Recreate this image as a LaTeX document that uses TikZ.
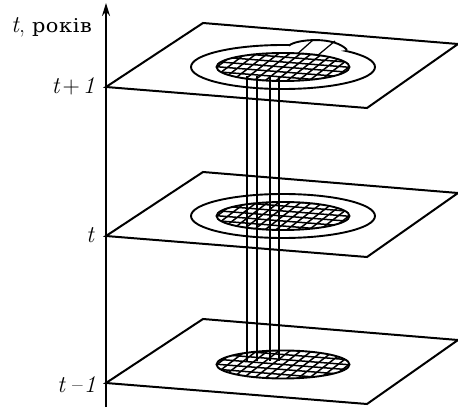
\documentclass[tikz,border=0pt]{standalone}
\usepackage{fontspec}
\usepackage{amsmath}
\usetikzlibrary{positioning, arrows.meta}
\newfontfamily\ukrfont[LetterSpace=3, FakeStretch=1.1]{DejaVu Serif}

\begin{document}
\begin{tikzpicture}[x=1pt, y=-1pt, > = {Stealth[length=13pt, width=8pt]},
    plane/.style = {line width=2pt, line join=miter},
    ring/.style = {line width=1.9pt},
    fibre/.style = {line width=1.25pt},
    mesh/.style = {line width=1.5pt},
    ticklabel/.style = {anchor=base east, inner sep=0pt, font=\fontsize{24}{24}\selectfont\itshape\addfontfeature{FakeBold=0.3}}]
    \useasboundingbox (0,0) rectangle (458,409);

    % planes
    \foreach \dy in {0,149,296}
        \draw[plane] (106,87+\dy) -- (203,23+\dy) -- (458,44+\dy) -- (367,108+\dy) -- cycle;

    % outer rings
    \foreach \cy in {67,216}
        \draw[ring] (283,\cy) ellipse [x radius=92, y radius=22];

    % tab on the top ring
    \fill[white] (289,45.5) .. controls (297,39) and (335,36) .. (347,50) -- (300,56) -- cycle;
    \draw[ring] (289,45.5) .. controls (297,39) and (335,36) .. (347,50);
    \draw[fibre] (313,40) -- (295,56) (335,41) -- (317,56);

    % discs with mesh
    \foreach \cy in {67,216,364.5} {
        \begin{scope}
            \clip (283,\cy) ellipse [x radius=66.5, y radius=14];
            \fill[white] (210,\cy-16) rectangle (356,\cy+16);
            \foreach \k in {-4,...,4}
                \draw[mesh] (205,\cy+5*\k-6.2) -- (361,\cy+5*\k+6.2);
            \foreach \k in {-8,...,8}
                \draw[mesh] (283+11*\k+21,\cy-16) -- (283+11*\k-21,\cy+16);
        \end{scope}
        \draw[ring] (283,\cy) ellipse [x radius=66.5, y radius=14];
    }

    % vertical lines between the discs
    \coordinate (top) at (0,76);
    \coordinate (bottom) at (0,361);
    \foreach \fx in {247,257,270,279}
        \draw[fibre] (top -| \fx,0) -- (bottom -| \fx,0);

    % time axis
    \coordinate (axisstart) at (106,407);
    \coordinate (axisend) at (106,3);
    \draw[->, line width=2pt] (axisstart) -- (axisend);

    \node[ticklabel] (title) at (92,33) {t{\upshape,}\hspace{7pt}{\upshape\ukrfont\fontsize{19}{20}\selectfont років}};
    \node[ticklabel] (later) at (95,94) {t\hspace{3pt}{\upshape+}\hspace{3pt}1};
    \node[ticklabel] (now) at (94,242) {t};
    \node[ticklabel] (earlier) at (96,392) {t\hspace{5pt}--\hspace{2pt}1};
\end{tikzpicture}
\end{document}
